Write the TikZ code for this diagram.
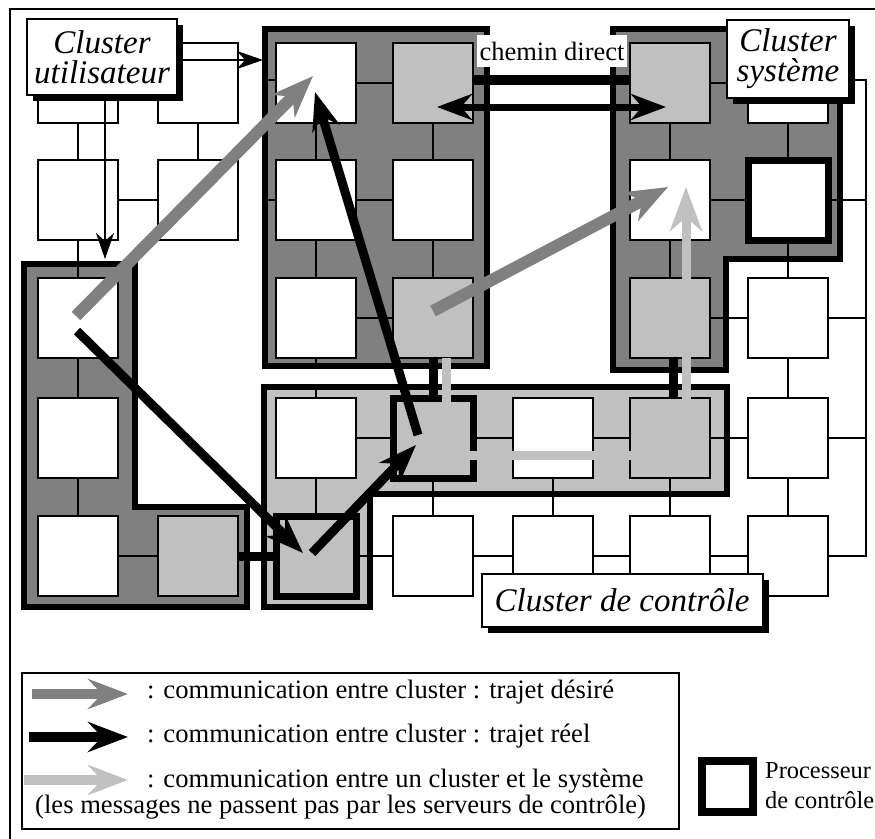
\documentclass[tikz,border=0pt]{standalone}
\usepackage{fontspec}
\setmainfont{Liberation Serif}
\newfontfamily\labelfont{Liberation Serif}
\usetikzlibrary{arrows.meta,shadows}

\definecolor{clusterdark}{HTML}{808080}
\definecolor{clusterlight}{HTML}{C0C0C0}

\pgfdeclarelayer{back}
\pgfdeclarelayer{links}
\pgfsetlayers{back,links,main}

\begin{document}
\begin{tikzpicture}[x=1pt,y=-1pt,
  frame/.style={draw=black,line width=2pt},
  cluster/.style={draw=black,line width=6pt,line join=miter},
  proc/.style={rectangle,draw=black,line width=2.2pt,fill=white,minimum size=80pt,inner sep=0pt,outer sep=0pt},
  srv/.style={proc,fill=clusterlight},
  ctrlproc/.style={line width=7pt},
  link/.style={draw=black,line width=2pt},
  biglink/.style={draw=black,line width=9pt},
  desired/.style={draw=clusterdark,line width=12pt,-{Stealth[length=42pt,width=32pt,inset=13pt]}},
  actual/.style={draw=black,line width=9pt,-{Stealth[length=38pt,width=28pt,inset=12pt]}},
  sysmsg/.style={draw=clusterlight,line width=9pt,line join=miter,-{Stealth[length=44pt,width=32pt,inset=14pt]}},
  direct/.style={draw=black,line width=7pt,{Stealth[length=35pt,width=26pt,inset=11pt]}-{Stealth[length=35pt,width=26pt,inset=11pt]}},
  thinarrow/.style={draw=black,line width=2pt,-{Stealth[length=26pt,width=18pt,inset=8pt]}},
  clabel/.style={draw=black,line width=2pt,fill=white,inner sep=0pt,align=center,
    font=\labelfont\fontsize{33}{30}\selectfont\itshape,
    drop shadow={shadow xshift=6pt,shadow yshift=-6pt,fill=black,opacity=1}},
  legtext/.style={anchor=base west,inner sep=0pt,font=\labelfont\fontsize{26.6}{30}\selectfont},
  proctext/.style={anchor=base west,inner sep=0pt,font=\labelfont\fontsize{24.4}{28}\selectfont},
  legarrow/.style={line width=10pt,-{Stealth[length=40pt,width=30pt,inset=14pt]}},
]
\useasboundingbox (0,0) rectangle (875,838);

\begin{pgfonlayer}{back}
% outer frame (its right and bottom sides lie past the page edge)
\draw[frame] (10,9) rectangle (880,845);
% user cluster (L-shaped)
\draw[cluster,fill=clusterdark] (24,264) -- (135,264) -- (135,507) -- (247,507) -- (247,607) -- (24,607) -- cycle;
% middle cluster
\draw[cluster,fill=clusterdark] (265,29) rectangle (487,366);
% system cluster
\draw[cluster,fill=clusterdark] (613,29) -- (840,29) -- (840,259) -- (726,259) -- (726,370) -- (613,370) -- cycle;
% control cluster
\draw[cluster,fill=clusterlight] (264,387) -- (727,387) -- (727,494) -- (370,494) -- (370,607) -- (264,607) -- cycle;
\end{pgfonlayer}

% ---------- processors ----------
\node[proc] (p11) at (78,83) {};
\node[proc] (p12) at (78,200) {};
\node[proc] (p13) at (78,318) {};
\node[proc] (p14) at (78,438) {};
\node[proc] (p15) at (78,556) {};
\node[proc] (p21) at (198,83) {};
\node[proc] (p22) at (198,200) {};
\node[srv]  (p25) at (198,556) {};
\node[proc] (p31) at (316,83) {};
\node[proc] (p32) at (316,200) {};
\node[proc] (p33) at (316,318) {};
\node[proc] (p34) at (316,438) {};
\node[srv,ctrlproc] (p35) at (316,556) {};
\node[srv]  (p41) at (433,83) {};
\node[proc] (p42) at (433,200) {};
\node[srv]  (p43) at (433,318) {};
\node[srv,ctrlproc] (p44) at (433,438) {};
\node[proc] (p45) at (433,556) {};
\node[proc] (p54) at (553,438) {};
\node[proc] (p55) at (553,556) {};
\node[srv]  (p61) at (670,83) {};
\node[proc] (p62) at (670,200) {};
\node[srv]  (p63) at (670,318) {};
\node[srv]  (p64) at (670,438) {};
\node[proc] (p65) at (670,556) {};
\node[proc] (p71) at (788,83) {};
\node[proc,ctrlproc] (p72) at (788,200) {};
\node[proc] (p73) at (788,318) {};
\node[proc] (p74) at (788,438) {};
\node[proc] (p75) at (788,556) {};

% link end points that stop at cluster borders
\coordinate (s31) at (265,80);
\coordinate (s32) at (265,200);
\coordinate (s33) at (316,366);
\coordinate (s34) at (316,387);
\coordinate (bus1) at (866,80);
\coordinate (bus5) at (866,556);

\begin{pgfonlayer}{links}
% ordinary links
\foreach \a/\b in {p11/p12,p21/p22,p12/p22,p12/p13,p13/p14,p14/p15,p15/p25,
  p31/p41,p32/p42,p33/p43,p31/p32,p32/p33,p41/p42,p42/p43,
  p61/p71,p61/p62,p71/p72,p62/p72,p62/p63,p72/p73,p63/p73,
  p34/p44,p44/p54,p54/p64,p64/p74,p73/p74,p74/p75,
  p34/p35,p35/p45,p44/p45,p54/p55,p64/p65,p45/p55,p55/p65,p65/p75}
  \draw[link] (\a.center) -- (\b.center);
\draw[link] (s31) -- (s31 -| p31.center);
\draw[link] (s32) -- (p32.center);
\draw[link] (p33.center) -- (s33);
\draw[link] (s34) -- (p34.center);
\draw[link] (p71.center |- bus1) -- (bus1) -- (bus5) -- (p75.center);
\draw[link] (p72.center) -- (p72.center -| bus1);
\draw[link] (p73.center) -- (p73.center -| bus1);
\draw[link] (p74.center) -- (p74.center -| bus1);
% links between clusters
\draw[biglink] (p25.east) -- (p35.west);
\draw[biglink] (p43.south) -- (p44.north);
\draw[biglink] ([xshift=3pt]p63.south) -- ([xshift=3pt]p64.north);
\draw[biglink,line width=10pt] ([yshift=3pt]p41.east) -- ([yshift=3pt]p61.west);
\end{pgfonlayer}

% ---------- messages ----------
\coordinate (u0) at (76,316);
\coordinate (u1) at (313,76);
\coordinate (m0) at (433,311);
\coordinate (m1) at (668,187);
\coordinate (r0) at (77,331);
\coordinate (r1) at (303,553);
\coordinate (r2) at (312,553);
\coordinate (r3) at (416,445);
\coordinate (r4) at (418,435);
\coordinate (r5) at (315,92);
\coordinate (g0) at (446,358);
\coordinate (g1) at (446,455);
\coordinate (g2) at (686,455);
\coordinate (g3) at (686,187);
\coordinate (d0) at (437,107);
\coordinate (d1) at (666,107);

\draw[sysmsg] (g0) -- (g1) -- (g2) -- (g3);
\draw[desired] (u0) -- (u1);
\draw[desired] (m0) -- (m1);
\draw[actual] (r0) -- (r1);
\draw[actual] (r2) -- (r3);
\draw[actual] (r4) -- (r5);
\draw[direct] (d0) -- (d1);

% ---------- labels ----------
\node[fill=white,inner sep=0pt,minimum width=150pt,minimum height=32pt,font=\labelfont\fontsize{26.5}{30}\selectfont] (cd) at (552,51) {chemin direct};
\node[clabel,minimum width=150pt,minimum height=76pt] (cu) at (102,57) {Cluster\\utilisateur};
\node[clabel,minimum width=122pt,minimum height=78pt] (cs) at (788,59) {Cluster\\système};
\node[clabel,minimum width=281pt,minimum height=53pt] (cc) at (622,600) {Cluster de contrôle};

\coordinate (cu1) at (263,60);
\coordinate (cu2) at (105,259);
\draw[thinarrow] (cu.east |- cu1) -- (cu1);
\draw[thinarrow] (cu.south -| cu2) -- (cu2);

% ---------- legend ----------
\draw[frame] (22,673) rectangle (679,829);
\coordinate (la0) at (32,694);  \coordinate (la1) at (128,694);
\coordinate (lb0) at (29,737);  \coordinate (lb1) at (128,737);
\coordinate (lc0) at (24,780);  \coordinate (lc1) at (128,780);
\draw[legarrow,draw=clusterdark] (la0) -- (la1);
\draw[legarrow,draw=black] (lb0) -- (lb1);
\draw[legarrow,draw=clusterlight] (lc0) -- (lc1);
\node[legtext] (t1) at (147,698) {: communication entre cluster : trajet désiré};
\node[legtext] (t2) at (147,742) {: communication entre cluster : trajet réel};
\node[legtext] (t3) at (147,787) {: communication entre un cluster et le système};
\node[legtext] (t4) at (35,813) {(les messages ne passent pas par les serveurs de contrôle)};

\node[rectangle,draw=black,line width=8pt,fill=white,minimum size=51pt,inner sep=0pt] (lp) at (727,786) {};
\node[proctext] (lp1) at (765,778) {Processeur};
\node[proctext] (lp2) at (765,808) {de contrôle};
\end{tikzpicture}
\end{document}
